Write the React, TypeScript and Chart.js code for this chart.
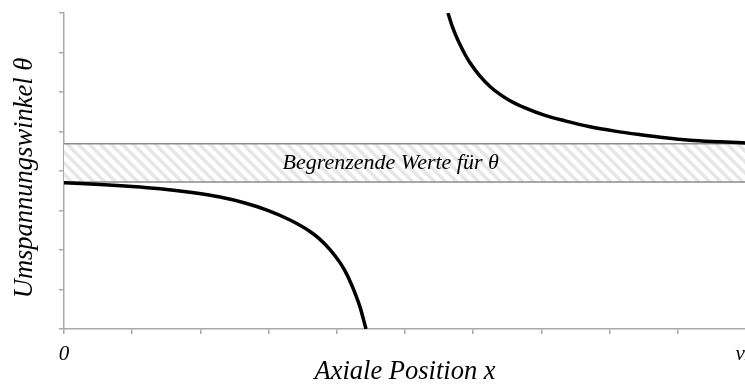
import React, { useEffect, useRef } from 'react';
import { Chart, registerables } from 'chart.js';

Chart.register(...registerables);

// ---- data ----
const leftX = [0, 0.528, 0.997, 1.408, 1.848, 2.287, 2.654, 2.977, 3.314, 3.607, 3.754, 3.9, 4.047, 4.12, 4.194, 4.267, 4.34, 4.428];
const leftY = [3.7, 3.66, 3.61, 3.55, 3.46, 3.34, 3.19, 3.01, 2.76, 2.47, 2.27, 2.01, 1.68, 1.47, 1.21, 0.91, 0.56, 0.0];
const rightX = [5.63, 5.689, 5.748, 5.806, 5.88, 5.953, 6.1, 6.246, 6.393, 6.54, 6.76, 7.053, 7.346, 7.713, 8.079, 8.446, 8.812, 9.179, 9.619, 10.0];
const rightY = [8.0, 7.68, 7.42, 7.2, 6.95, 6.74, 6.4, 6.14, 5.94, 5.78, 5.6, 5.41, 5.27, 5.12, 5.01, 4.92, 4.84, 4.78, 4.74, 4.71];
const bandLow = 3.72;
const bandHigh = 4.69;
const bandLabel = 'Begrenzende Werte für θ';
const bandLabelX = 4.79;
const xTickLabels: Record<number, string> = { 0: '0', 10: 'vL' };
const xTitle = 'Axiale Position x';
const yTitle = 'Umspannungswinkel θ';
const xMin = 0, xMax = 10, yMin = 0, yMax = 8;

const W = 770;
const H = 385;
const FONT = '"Liberation Serif", "DejaVu Serif", serif';

function makePattern(): CanvasPattern | string {
  const s = 11;
  const c = document.createElement('canvas');
  c.width = s;
  c.height = s;
  const g = c.getContext('2d');
  if (!g) return '#eeeeee';
  g.fillStyle = '#ffffff';
  g.fillRect(0, 0, s, s);
  g.strokeStyle = '#e6e6e6';
  g.lineWidth = 3.5;
  for (let k = -1; k <= 1; k++) {
    g.beginPath();
    g.moveTo(k * s - 1, -1);
    g.lineTo(k * s + s + 1, s + 1);
    g.stroke();
  }
  const p = g.createPattern(c, 'repeat');
  return p || '#eeeeee';
}

const bandPlugin = {
  id: 'band',
  beforeDatasetsDraw(chart: any) {
    const { ctx, chartArea, scales } = chart;
    const yTop = scales.y.getPixelForValue(bandHigh);
    const yBot = scales.y.getPixelForValue(bandLow);
    ctx.save();
    ctx.fillStyle = makePattern();
    ctx.fillRect(chartArea.left, yTop, chartArea.right - chartArea.left, yBot - yTop);
    ctx.strokeStyle = '#8c8c8c';
    ctx.lineWidth = 1.5;
    ctx.beginPath();
    ctx.moveTo(chartArea.left, yTop);
    ctx.lineTo(chartArea.right, yTop);
    ctx.moveTo(chartArea.left, yBot);
    ctx.lineTo(chartArea.right, yBot);
    ctx.stroke();
    ctx.fillStyle = '#000000';
    ctx.font = `italic 22px ${FONT}`;
    ctx.textAlign = 'center';
    ctx.textBaseline = 'middle';
    ctx.fillText(bandLabel, scales.x.getPixelForValue(bandLabelX), (yTop + yBot) / 2);
    ctx.restore();
  },
  afterDraw(chart: any) {
    const { ctx, chartArea } = chart;
    ctx.save();
    ctx.translate(25, (chartArea.top + chartArea.bottom) / 2 + 7);
    ctx.rotate(-Math.PI / 2);
    ctx.fillStyle = '#000000';
    ctx.font = `italic 26.5px ${FONT}`;
    ctx.textAlign = 'center';
    ctx.textBaseline = 'middle';
    ctx.fillText(yTitle, 0, 0);
    ctx.restore();
  },
};

export default function App() {
  const ref = useRef<HTMLCanvasElement>(null);
  useEffect(() => {
    if (!ref.current) return;
    const chart = new Chart(ref.current, {
      type: 'line',
      data: {
        datasets: [
          {
            data: leftX.map((x, i) => ({ x, y: leftY[i] })),
            borderColor: '#000000',
            borderWidth: 3.5,
            pointRadius: 0,
            cubicInterpolationMode: 'monotone',
            fill: false,
          },
          {
            data: rightX.map((x, i) => ({ x, y: rightY[i] })),
            borderColor: '#000000',
            borderWidth: 3.5,
            pointRadius: 0,
            cubicInterpolationMode: 'monotone',
            fill: false,
          },
        ],
      },
      options: {
        responsive: false,
        animation: false,
        devicePixelRatio: 1,
        layout: { padding: { top: 13, left: 0, right: W - 746, bottom: 0 } },
        plugins: { legend: { display: false }, tooltip: { enabled: false } },
        scales: {
          x: {
            type: 'linear',
            min: xMin,
            max: xMax,
            grid: { drawOnChartArea: false, drawTicks: true, tickLength: 5, color: '#aaaaaa', lineWidth: 1.5 },
            border: { display: true, color: '#aaaaaa', width: 1.5 },
            ticks: {
              stepSize: 1,
              autoSkip: false,
              maxRotation: 0,
              padding: 8,
              color: '#000000',
              font: { family: FONT, size: 21, style: 'italic' },
              callback: (v: any) => xTickLabels[v as number] ?? '',
            },
            title: {
              display: true,
              text: xTitle,
              color: '#000000',
              font: { family: FONT, size: 26.5, style: 'italic', lineHeight: 1 },
              padding: 0,
            },
            afterFit: (s: any) => {
              s.height = H - 329;
              s.paddingLeft = 0;
              s.paddingRight = 0;
            },
          },
          y: {
            type: 'linear',
            min: yMin,
            max: yMax,
            grid: { drawOnChartArea: false, drawTicks: true, tickLength: 5, color: '#aaaaaa', lineWidth: 1.5 },
            border: { display: true, color: '#aaaaaa', width: 1.5 },
            ticks: { stepSize: 1, display: false },
            title: { display: false },
            afterFit: (s: any) => {
              s.width = 64;
              s.paddingTop = 0;
              s.paddingBottom = 0;
            },
          },
        },
      },
      plugins: [bandPlugin],
    } as any);
    return () => chart.destroy();
  }, []);
  return (
    <div style={{ position: 'fixed', left: 0, top: 0, width: W, height: H, background: '#ffffff' }}>
      <canvas ref={ref} width={W} height={H} style={{ width: W, height: H, display: 'block' }} />
    </div>
  );
}
